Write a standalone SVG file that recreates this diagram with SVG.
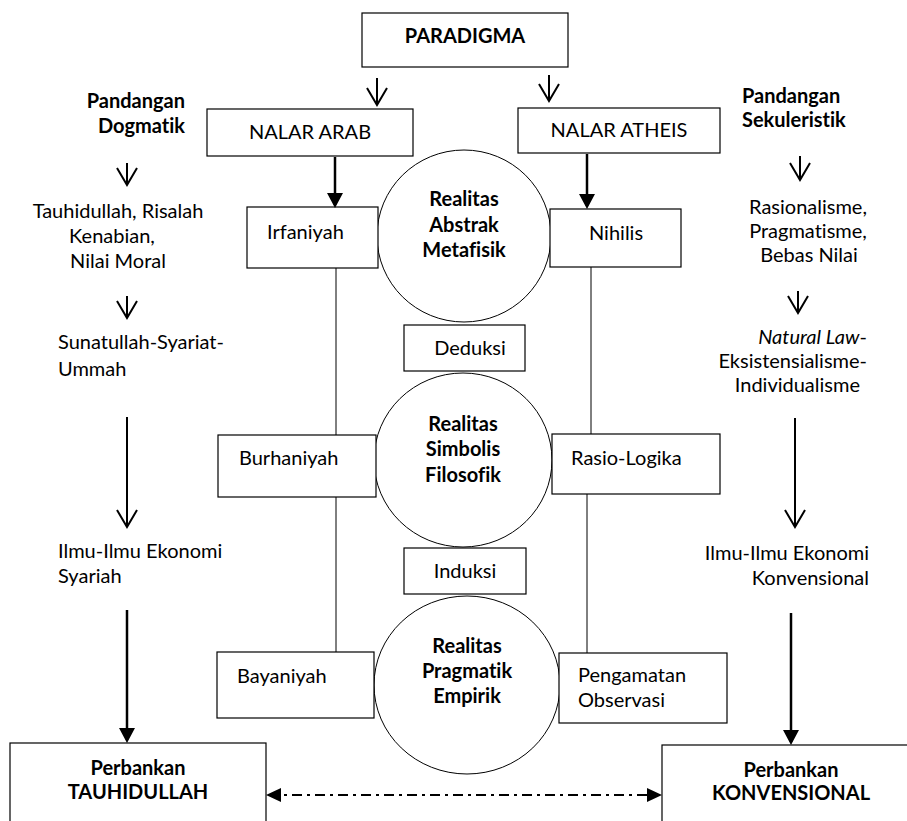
<svg xmlns="http://www.w3.org/2000/svg" width="907" height="821" viewBox="0 0 907 821">
<defs>
<style>
.box{fill:#fff;stroke:#000;stroke-width:1.2}
.circ{fill:#fff;stroke:#000;stroke-width:1}
.t{font-family:Lato,"Liberation Sans",sans-serif;font-size:20px;fill:#000;font-variant-ligatures:none}
.b{font-weight:bold}
.m{text-anchor:middle}
.e{text-anchor:end}
.thin{stroke:#000;stroke-width:1;fill:none}
.open{stroke:#000;stroke-width:2;fill:none;marker-end:url(#oa)}
.solid{stroke:#000;stroke-width:2.5;fill:none;marker-end:url(#fa)}
.dd{stroke:#000;stroke-width:2;fill:none;stroke-dasharray:10 5 3 5;marker-start:url(#fa2);marker-end:url(#fa2)}
</style>
<marker id="oa" markerUnits="userSpaceOnUse" orient="auto" refX="0" refY="0" markerWidth="20" markerHeight="24" overflow="visible">
<path d="M-17,-10 L0,0 L-17,10" fill="none" stroke="#000" stroke-width="2"/>
</marker>
<marker id="fa" markerUnits="userSpaceOnUse" orient="auto" refX="0" refY="0" markerWidth="20" markerHeight="20" overflow="visible">
<path d="M-12,-8 L3,0 L-12,8 Z" fill="#000"/>
</marker>
<marker id="fa2" markerUnits="userSpaceOnUse" orient="auto-start-reverse" refX="0" refY="0" markerWidth="20" markerHeight="20" overflow="visible">
<path d="M-12,-7 L3,0 L-12,7 Z" fill="#000"/>
</marker>
</defs>
<rect width="907" height="821" fill="#fff"/>

<g id="circle-abstrak">
<ellipse class="circ" cx="464" cy="236" rx="87" ry="86"/>
<text class="t b m" x="464" y="206">Realitas</text>
<text class="t b m" x="464" y="232">Abstrak</text>
<text class="t b m" x="464" y="257">Metafisik</text>
</g>
<g id="circle-simbolis">
<ellipse class="circ" cx="463" cy="460" rx="89" ry="87"/>
<text class="t b m" x="463" y="431">Realitas</text>
<text class="t b m" x="463" y="456">Simbolis</text>
<text class="t b m" x="463" y="482">Filosofik</text>
</g>
<g id="circle-pragmatik">
<ellipse class="circ" cx="467" cy="685" rx="93" ry="89"/>
<text class="t b m" x="467" y="653">Realitas</text>
<text class="t b m" x="467" y="678">Pragmatik</text>
<text class="t b m" x="467" y="703">Empirik</text>
</g>

<g id="paradigma">
<rect class="box" x="362" y="13" width="206" height="54"/>
<text class="t b m" x="465" y="43">PARADIGMA</text>
</g>
<g id="nalar-arab">
<rect class="box" x="207" y="109" width="206" height="47"/>
<text class="t m" x="310" y="139">NALAR ARAB</text>
</g>
<g id="nalar-atheis">
<rect class="box" x="518" y="108" width="202" height="45"/>
<text class="t m" x="619" y="137">NALAR ATHEIS</text>
</g>
<g id="irfaniyah">
<rect class="box" x="247" y="207" width="131" height="61"/>
<text class="t" x="267" y="239">Irfaniyah</text>
</g>
<g id="nihilis">
<rect class="box" x="550" y="209" width="131" height="58"/>
<text class="t" x="589" y="240">Nihilis</text>
</g>
<g id="deduksi">
<rect class="box" x="404" y="325" width="121" height="46"/>
<text class="t m" x="470" y="355">Deduksi</text>
</g>
<g id="burhaniyah">
<rect class="box" x="218" y="435" width="158" height="62"/>
<text class="t" x="239" y="465">Burhaniyah</text>
</g>
<g id="rasio-logika">
<rect class="box" x="552" y="434" width="168" height="60"/>
<text class="t" x="571" y="465">Rasio-Logika</text>
</g>
<g id="induksi">
<rect class="box" x="404" y="548" width="122" height="46"/>
<text class="t m" x="465" y="578">Induksi</text>
</g>
<g id="bayaniyah">
<rect class="box" x="217" y="652" width="157" height="66"/>
<text class="t" x="237" y="683">Bayaniyah</text>
</g>
<g id="pengamatan">
<rect class="box" x="559" y="653" width="168" height="70"/>
<text class="t" x="578" y="682">Pengamatan</text>
<text class="t" x="578" y="707">Observasi</text>
</g>
<g id="perbankan-tauhidullah">
<rect class="box" x="10" y="743" width="256" height="100"/>
<text class="t b m" x="138" y="775">Perbankan</text>
<text class="t b m" x="138" y="799">TAUHIDULLAH</text>
</g>
<g id="perbankan-konvensional">
<rect class="box" x="662" y="745" width="260" height="100"/>
<text class="t b m" x="791" y="777">Perbankan</text>
<text class="t b m" x="791" y="800">KONVENSIONAL</text>
</g>

<g id="pandangan-dogmatik">
<text class="t b e" x="185" y="108">Pandangan</text>
<text class="t b e" x="185" y="133">Dogmatik</text>
</g>
<g id="tauhidullah">
<text class="t m" x="118" y="218">Tauhidullah, Risalah</text>
<text class="t m" x="112" y="243">Kenabian,</text>
<text class="t m" x="118" y="268">Nilai Moral</text>
</g>
<g id="sunatullah">
<text class="t" x="58" y="349">Sunatullah-Syariat-</text>
<text class="t" x="58" y="376">Ummah</text>
</g>
<g id="ilmu-syariah">
<text class="t" x="58" y="558">Ilmu-Ilmu Ekonomi</text>
<text class="t" x="58" y="583">Syariah</text>
</g>
<g id="pandangan-sekuleristik">
<text class="t b" x="742" y="103">Pandangan</text>
<text class="t b" x="742" y="127">Sekuleristik</text>
</g>
<g id="rasionalisme">
<text class="t m" x="808" y="214">Rasionalisme,</text>
<text class="t m" x="808" y="238">Pragmatisme,</text>
<text class="t m" x="809" y="262">Bebas Nilai</text>
</g>
<g id="natural-law">
<text class="t e" x="867" y="344"><tspan font-style="italic">Natural Law</tspan>-</text>
<text class="t e" x="867" y="368">Eksistensialisme-</text>
<text class="t e" x="860" y="392">Individualisme</text>
</g>
<g id="ilmu-konvensional">
<text class="t e" x="869" y="560">Ilmu-Ilmu Ekonomi</text>
<text class="t e" x="869" y="585">Konvensional</text>
</g>

<g id="connectors">
<path class="open" d="M377,78 V105"/>
<path class="open" d="M549,75 V101"/>
<path class="solid" d="M335,157 V205"/>
<path class="solid" d="M587,154 V206"/>
<path class="thin" d="M336,268 V435"/>
<path class="thin" d="M336,497 V652"/>
<path class="thin" d="M591,267 V434"/>
<path class="thin" d="M587,494 V653"/>
<path class="open" d="M127,163 V185"/>
<path class="open" d="M127,296 V318"/>
<path class="open" d="M127,417 V527"/>
<path class="solid" d="M127,610 V740"/>
<path class="open" d="M800,156 V180"/>
<path class="open" d="M798,291 V313"/>
<path class="open" d="M795,418 V527"/>
<path class="solid" d="M791,613 V742"/>
<path class="dd" d="M269,795 H659"/>
</g>
</svg>
